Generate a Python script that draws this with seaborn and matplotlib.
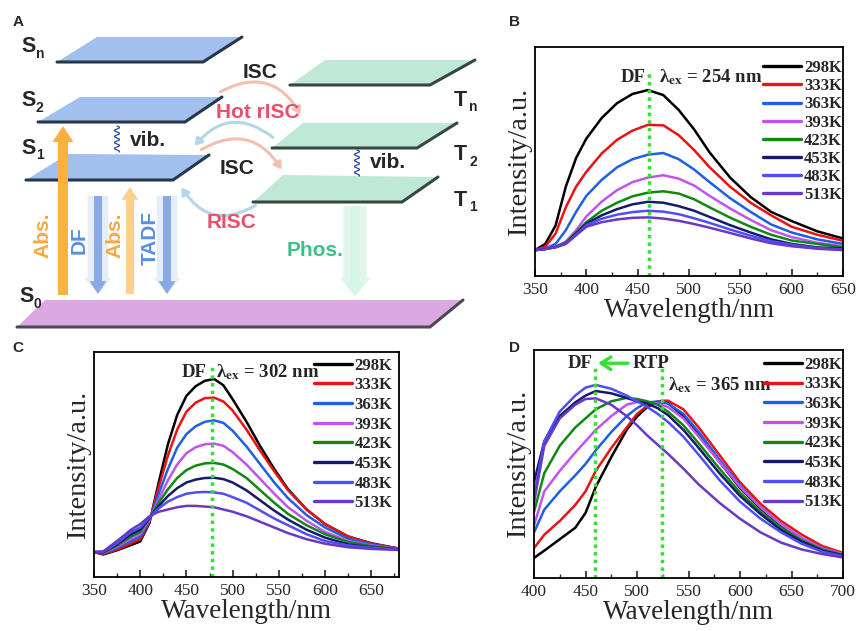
import numpy as np
import pandas as pd
import matplotlib
matplotlib.use("Agg")
import matplotlib.pyplot as plt
import seaborn as sns
from matplotlib.patches import Polygon, FancyArrow, FancyArrowPatch

# temperatures and line colours shared by panels B-D
temps = ["298K", "333K", "363K", "393K", "423K", "453K", "483K", "513K"]
colors = ["#000000", "#ee1111", "#1e5ee8", "#c153f0", "#118811", "#151a6a", "#4e4ef5", "#6a38c8"]

# panel B (lambda_ex = 254 nm), intensities normalised to axis height
wl_b = [350, 360, 370, 380, 390, 400, 415, 430, 445, 460, 475, 490, 505, 520, 540, 560, 580, 600, 625, 650]
b298 = [0.113, 0.140, 0.220, 0.390, 0.515, 0.600, 0.690, 0.755, 0.795, 0.812, 0.790, 0.725, 0.640, 0.540, 0.430, 0.345, 0.280, 0.240, 0.195, 0.164]
b333 = [0.113, 0.128, 0.185, 0.300, 0.390, 0.455, 0.535, 0.595, 0.635, 0.660, 0.658, 0.615, 0.550, 0.475, 0.390, 0.320, 0.265, 0.215, 0.180, 0.154]
b363 = [0.113, 0.120, 0.140, 0.200, 0.280, 0.350, 0.420, 0.475, 0.510, 0.530, 0.537, 0.510, 0.465, 0.410, 0.340, 0.280, 0.225, 0.190, 0.160, 0.140]
b393 = [0.113, 0.118, 0.128, 0.150, 0.200, 0.260, 0.325, 0.375, 0.410, 0.430, 0.440, 0.425, 0.395, 0.350, 0.295, 0.245, 0.200, 0.170, 0.145, 0.130]
b423 = [0.113, 0.118, 0.127, 0.145, 0.190, 0.235, 0.285, 0.320, 0.348, 0.364, 0.370, 0.360, 0.335, 0.300, 0.255, 0.215, 0.180, 0.155, 0.140, 0.125]
b453 = [0.113, 0.118, 0.126, 0.143, 0.185, 0.228, 0.265, 0.292, 0.313, 0.324, 0.320, 0.305, 0.285, 0.258, 0.222, 0.190, 0.160, 0.140, 0.125, 0.120]
b483 = [0.113, 0.118, 0.126, 0.142, 0.180, 0.222, 0.250, 0.268, 0.279, 0.285, 0.281, 0.270, 0.252, 0.232, 0.203, 0.176, 0.152, 0.136, 0.122, 0.116]
b513 = [0.113, 0.118, 0.125, 0.140, 0.178, 0.215, 0.235, 0.247, 0.254, 0.256, 0.251, 0.241, 0.227, 0.211, 0.188, 0.164, 0.143, 0.130, 0.119, 0.113]

# panel C (lambda_ex = 302 nm)
wl_c = [350, 360, 375, 390, 400, 410, 420, 430, 440, 450, 460, 470, 480, 490, 500, 515, 530, 545, 560, 580, 600, 625, 650, 680]
c298 = [0.111, 0.100, 0.119, 0.142, 0.158, 0.240, 0.420, 0.590, 0.720, 0.805, 0.848, 0.872, 0.880, 0.852, 0.790, 0.690, 0.580, 0.480, 0.390, 0.300, 0.235, 0.180, 0.150, 0.126]
c333 = [0.111, 0.103, 0.122, 0.150, 0.168, 0.245, 0.400, 0.540, 0.655, 0.735, 0.775, 0.795, 0.797, 0.780, 0.740, 0.655, 0.560, 0.470, 0.385, 0.300, 0.235, 0.180, 0.148, 0.126]
c363 = [0.111, 0.105, 0.130, 0.160, 0.180, 0.250, 0.370, 0.480, 0.575, 0.635, 0.670, 0.690, 0.696, 0.685, 0.650, 0.580, 0.500, 0.420, 0.350, 0.275, 0.220, 0.170, 0.145, 0.125]
c393 = [0.111, 0.107, 0.135, 0.170, 0.190, 0.255, 0.345, 0.430, 0.500, 0.550, 0.577, 0.590, 0.593, 0.583, 0.555, 0.500, 0.435, 0.370, 0.310, 0.250, 0.200, 0.160, 0.140, 0.125]
c423 = [0.111, 0.108, 0.140, 0.180, 0.200, 0.260, 0.330, 0.390, 0.440, 0.475, 0.495, 0.505, 0.507, 0.500, 0.480, 0.440, 0.385, 0.330, 0.280, 0.230, 0.190, 0.155, 0.137, 0.124]
c453 = [0.111, 0.110, 0.145, 0.190, 0.210, 0.262, 0.315, 0.360, 0.395, 0.420, 0.433, 0.440, 0.441, 0.435, 0.420, 0.385, 0.340, 0.295, 0.255, 0.210, 0.175, 0.145, 0.132, 0.123]
c483 = [0.111, 0.112, 0.150, 0.200, 0.220, 0.265, 0.305, 0.335, 0.355, 0.370, 0.376, 0.378, 0.376, 0.370, 0.355, 0.330, 0.295, 0.260, 0.230, 0.190, 0.160, 0.140, 0.130, 0.122]
c513 = [0.111, 0.114, 0.160, 0.210, 0.235, 0.270, 0.290, 0.300, 0.310, 0.316, 0.316, 0.313, 0.310, 0.300, 0.290, 0.270, 0.245, 0.220, 0.195, 0.168, 0.148, 0.132, 0.125, 0.120]

# panel D (lambda_ex = 365 nm)
wl_d = [400, 410, 425, 440, 450, 460, 475, 490, 500, 510, 520, 530, 545, 560, 580, 600, 620, 640, 660, 680, 700]
d298 = [0.088, 0.120, 0.170, 0.220, 0.285, 0.400, 0.530, 0.650, 0.708, 0.750, 0.772, 0.768, 0.710, 0.625, 0.510, 0.395, 0.305, 0.230, 0.170, 0.125, 0.100]
d333 = [0.131, 0.190, 0.250, 0.320, 0.380, 0.470, 0.570, 0.660, 0.720, 0.755, 0.775, 0.778, 0.740, 0.660, 0.540, 0.420, 0.325, 0.250, 0.190, 0.140, 0.110]
d363 = [0.200, 0.300, 0.380, 0.450, 0.500, 0.560, 0.640, 0.710, 0.745, 0.770, 0.774, 0.765, 0.720, 0.640, 0.520, 0.405, 0.310, 0.235, 0.175, 0.130, 0.105]
d393 = [0.230, 0.380, 0.470, 0.550, 0.600, 0.650, 0.710, 0.760, 0.772, 0.770, 0.765, 0.750, 0.700, 0.620, 0.510, 0.400, 0.310, 0.235, 0.175, 0.130, 0.105]
d423 = [0.290, 0.460, 0.580, 0.660, 0.700, 0.740, 0.775, 0.790, 0.785, 0.775, 0.760, 0.730, 0.670, 0.590, 0.480, 0.375, 0.290, 0.220, 0.165, 0.125, 0.100]
d453 = [0.420, 0.600, 0.710, 0.770, 0.800, 0.820, 0.810, 0.790, 0.775, 0.765, 0.745, 0.715, 0.650, 0.570, 0.460, 0.360, 0.280, 0.210, 0.160, 0.120, 0.100]
d483 = [0.360, 0.600, 0.730, 0.800, 0.835, 0.847, 0.830, 0.800, 0.775, 0.750, 0.720, 0.685, 0.620, 0.540, 0.430, 0.335, 0.260, 0.200, 0.150, 0.115, 0.095]
d513 = [0.330, 0.580, 0.700, 0.760, 0.785, 0.788, 0.760, 0.710, 0.670, 0.625, 0.585, 0.545, 0.480, 0.410, 0.330, 0.260, 0.200, 0.155, 0.125, 0.105, 0.090]

ex_b, ex_c, ex_d = "254", "302", "365"
df_line_b, df_line_c = 461, 478
df_line_d, rtp_line_d = 459.5, 524.3


def long_df(wl, series):
    parts = [pd.DataFrame({"wl": wl, "I": vals, "T": t}) for t, vals in zip(temps, series)]
    return pd.concat(parts, ignore_index=True)


sns.set_style("ticks")
plt.rcParams["font.family"] = ["Liberation Serif", "DejaVu Serif"]
plt.rcParams["mathtext.fontset"] = "stix"

fig = plt.figure(figsize=(8.59, 6.31), dpi=100)

# ---------- panel A: schematic drawn in pixel coordinates ----------
ax_a = fig.add_axes([0, 0, 1, 1])
ax_a.set_xlim(0, 859)
ax_a.set_ylim(631, 0)
ax_a.axis("off")
ax_a.patch.set_visible(False)

SANS = "Liberation Sans"


def plate(pts, face, edge):
    ax_a.add_patch(Polygon(pts, closed=True, fc=face, ec="none", zorder=2))
    tl, tr, br, bl = pts
    ax_a.plot([bl[0], br[0], tr[0]], [bl[1], br[1], tr[1]], color=edge, lw=2.2,
              solid_joinstyle="miter", zorder=3)


s_face, s_edge = "#a2bfee", "#27374a"
t_face, t_edge = "#bfe9d6", "#34483f"
plate([(97, 37), (242, 37), (203, 62), (57, 62)], s_face, s_edge)
plate([(80, 97), (222, 97), (185, 122), (38, 122)], s_face, s_edge)
plate([(68, 154), (209, 155), (173, 180), (26, 180)], s_face, s_edge)
plate([(45, 300), (463, 300), (430, 327), (17, 327)], "#dba8e2", "#4a4a55")
plate([(325, 60), (475, 60), (430, 85), (290, 85)], t_face, t_edge)
plate([(303, 123), (457, 123), (417, 148), (272, 148)], t_face, t_edge)
plate([(283, 175), (438, 177), (402, 202), (253, 202)], t_face, t_edge)


def level(x, y, main, sub):
    ax_a.text(x, y, main, family=SANS, weight="bold", fontsize=15.5, ha="left", va="center", zorder=5)
    ax_a.text(x + 15, y + 7, sub, family=SANS, weight="bold", fontsize=10, ha="left", va="center", zorder=5)


level(21, 47, "S", "n")
level(21, 101, "S", "2")
level(21, 148, "S", "1")
level(19, 297, "S", "0")
level(454, 100, "T", "n")
level(454, 155, "T", "2")
level(454, 200, "T", "1")


def arrow(x, y0, y1, w, color, glow=None):
    if glow:
        ax_a.add_patch(FancyArrow(x, y0, 0, y1 - y0, width=w * 2.6, head_width=w * 3.4,
                                  head_length=w * 2.0, length_includes_head=True,
                                  fc=glow, ec="none", alpha=0.5, zorder=4))
    ax_a.add_patch(FancyArrow(x, y0, 0, y1 - y0, width=w, head_width=w * 2.1,
                              head_length=w * 1.6, length_includes_head=True,
                              fc=color, ec="none", zorder=4))


arrow(63, 295, 126, 10, "#fbb040")
arrow(98, 196, 294, 8, "#89a9e6", glow="#cddcf5")
arrow(130, 294, 187, 8, "#fdd08e")
arrow(167, 196, 294, 8, "#89a9e6", glow="#cddcf5")
arrow(355, 206, 296, 9, "#d4f6e6", glow="#c4ecd8")

ax_a.text(43, 235, "Abs.", family=SANS, weight="bold", fontsize=15, color="#f8a940",
          rotation=90, ha="center", va="center", zorder=5)
ax_a.text(79, 240, "DF", family=SANS, weight="bold", fontsize=15, color="#5a8ee0",
          rotation=90, ha="center", va="center", zorder=5)
ax_a.text(115, 235, "Abs.", family=SANS, weight="bold", fontsize=15, color="#f8a940",
          rotation=90, ha="center", va="center", zorder=5)
ax_a.text(150, 238, "TADF", family=SANS, weight="bold", fontsize=15, color="#5a8ee0",
          rotation=90, ha="center", va="center", zorder=5)
ax_a.text(315, 250, "Phos.", family=SANS, weight="bold", fontsize=15, color="#3cc08a",
          ha="center", va="center", zorder=5)

# vibrational relaxation squiggles
for xw, ya, yb, xt, yt in [(117, 126, 152, 130, 140), (357, 150, 176, 370, 163)]:
    yy = np.linspace(ya, yb, 80)
    ax_a.plot(xw + 2.5 * np.sin((yy - ya) / 6.0 * 2 * np.pi), yy, color="#2a48a8", lw=0.9, zorder=5)
    ax_a.text(xt, yt, "vib.", family=SANS, weight="bold", fontsize=15, ha="left", va="center", zorder=5)

# intersystem crossing arcs
for start, end, rad, col in [((218, 93), (302, 117), -0.5, "#f2bfb1"),
                             ((275, 139), (193, 148), 0.5, "#b4d6e6"),
                             ((199, 151), (283, 172), -0.5, "#f2bfb1"),
                             ((258, 204), (180, 185), -0.5, "#b4d6ec")]:
    ax_a.add_patch(FancyArrowPatch(start, end, connectionstyle=f"arc3,rad={rad}",
                                   arrowstyle="-|>,head_width=2.5,head_length=4",
                                   color=col, lw=2.2, zorder=4))

ax_a.text(243, 72, "ISC", family=SANS, weight="bold", fontsize=15, ha="left", va="center", zorder=5)
ax_a.text(216, 113, "Hot rISC", family=SANS, weight="bold", fontsize=15, color="#e8506a",
          ha="left", va="center", zorder=5)
ax_a.text(220, 168, "ISC", family=SANS, weight="bold", fontsize=15, ha="left", va="center", zorder=5)
ax_a.text(207, 222, "RISC", family=SANS, weight="bold", fontsize=15, color="#e8506a",
          ha="left", va="center", zorder=5)

for lab, x, y in [("A", 18, 22), ("B", 515, 22), ("C", 18, 348), ("D", 515, 348)]:
    ax_a.text(x, y, lab, family=SANS, weight="bold", fontsize=11, ha="center", va="center")


# ---------- panels B-D: temperature-dependent spectra ----------
def spectrum(rect, wl, series, xlim, ticks, leg_anchor, spacing):
    ax = fig.add_axes(rect)
    data = long_df(wl, series)
    sns.lineplot(data=data, x="wl", y="I", hue="T", hue_order=temps, palette=colors,
                 linewidth=1.8, errorbar=None, legend=False, ax=ax)
    ax.set_xlim(*xlim)
    ax.set_ylim(0, 1)
    ax.set_xticks(ticks)
    ax.set_xticks(np.arange(ticks[0], xlim[1] + 1, 25), minor=True)
    ax.set_yticks([])
    ax.tick_params(axis="x", which="major", direction="in", length=5, width=1.2,
                   labelsize=12.5, pad=4, top=False)
    ax.tick_params(axis="x", which="minor", direction="in", length=3, width=1.0, top=False)
    for sp in ax.spines.values():
        sp.set_linewidth(1.3)
        sp.set_color("black")
    ax.set_xlabel("Wavelength/nm", fontsize=19.5, labelpad=0)
    ax.set_ylabel("Intensity/a.u.", fontsize=20.5, labelpad=2)
    leg = ax.legend(ax.get_lines()[:len(temps)], temps, loc="upper right", bbox_to_anchor=leg_anchor,
                    frameon=False, handlelength=2.3, handletextpad=0.15, labelspacing=spacing,
                    borderaxespad=0, prop={"weight": "bold", "size": 12})
    for ln in leg.get_lines():
        ln.set_linewidth(2.4)
    return ax


txt = dict(fontsize=13.5, weight="bold", va="center")
dot = dict(color="#33e033", lw=2.5, linestyles=(0, (1, 1.2)))

ax_b = spectrum([535 / 859, 1 - 276 / 631, 308 / 859, 229 / 631], wl_b,
                [b298, b333, b363, b393, b423, b453, b483, b513], (350, 650),
                np.arange(350, 651, 50), (1.018, 0.972), 0.13)
ax_b.vlines(df_line_b, 0, 0.89, **dot)
ax_b.text(458, 0.866, "DF", ha="right", **txt)
ax_b.text(471, 0.868, "λ$_{\\mathbf{ex}}$ = " + ex_b + " nm", ha="left", **txt)

ax_c = spectrum([94 / 859, 1 - 577 / 631, 305 / 859, 225 / 631], wl_c,
                [c298, c333, c363, c393, c423, c453, c483, c513], (350, 680),
                np.arange(350, 651, 50), (1.0, 1.005), 0.22)
ax_c.vlines(df_line_c, 0, 0.94, **dot)
ax_c.text(472, 0.911, "DF", ha="right", **txt)
ax_c.text(482, 0.911, "λ$_{\\mathbf{ex}}$ = " + ex_c + " nm", ha="left", **txt)

ax_d = spectrum([534 / 859, 1 - 578 / 631, 309 / 859, 228 / 631], wl_d,
                [d298, d333, d363, d393, d423, d453, d483, d513], (400, 700),
                np.arange(400, 701, 50), (1.02, 1.0), 0.22)
ax_d.vlines([df_line_d, rtp_line_d], 0, 0.92, **dot)
ax_d.text(457, 0.942, "DF", ha="right", **txt)
ax_d.text(496, 0.942, "RTP", ha="left", **txt)
ax_d.annotate("", xy=(df_line_d, 0.942), xytext=(494, 0.942),
              arrowprops=dict(arrowstyle="->,head_width=0.45,head_length=0.7", color="#33e033", lw=2.4))
ax_d.text(530, 0.847, "λ$_{\\mathbf{ex}}$ = " + ex_d + " nm", ha="left", **txt)

fig.savefig("out.png", dpi=100)
